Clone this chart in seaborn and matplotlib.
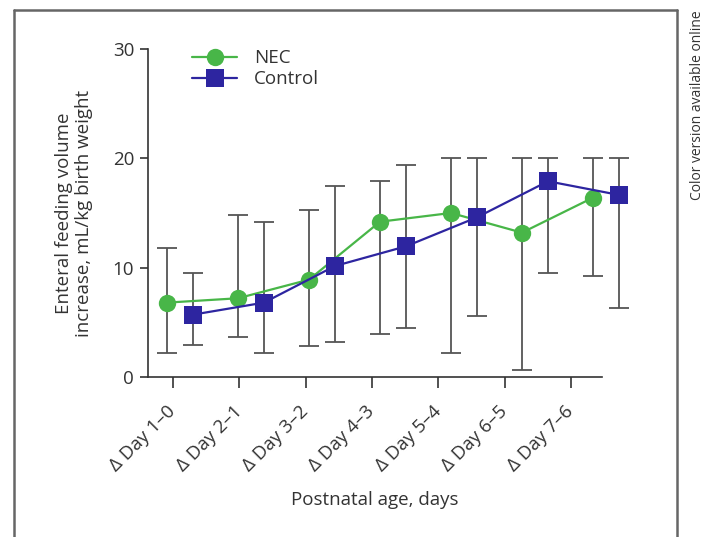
import numpy as np
import pandas as pd
import matplotlib
matplotlib.use("Agg")
import matplotlib.pyplot as plt
import seaborn as sns
from matplotlib.lines import Line2D

categories = ["Δ Day 1–0", "Δ Day 2–1", "Δ Day 3–2", "Δ Day 4–3",
              "Δ Day 5–4", "Δ Day 6–5", "Δ Day 7–6"]
nec_mean = [6.8, 7.2, 8.9, 14.2, 15.0, 13.2, 16.4]
nec_upper = [11.8, 14.8, 15.25, 17.9, 20.0, 20.0, 20.0]
nec_lower = [2.2, 3.7, 2.8, 3.9, 2.2, 0.6, 9.2]
ctrl_mean = [5.7, 6.8, 10.15, 11.95, 14.6, 17.9, 16.65]
ctrl_upper = [9.5, 14.15, 17.5, 19.4, 20.0, 20.0, 20.0]
ctrl_lower = [2.9, 2.2, 3.2, 4.5, 5.6, 9.5, 6.3]
y_ticks = [0, 10, 20, 30]

sns.set_theme(style="white")
plt.rcParams['font.family'] = ['Open Sans', 'DejaVu Sans']

GREEN = "#48b648"
BLUE = "#2d25a0"
TXT = "#333333"

n = len(categories)
idx = np.arange(n)
ctrl_off = 0.366
df = pd.DataFrame({
    "x": np.concatenate([idx, idx + ctrl_off]),
    "y": nec_mean + ctrl_mean,
    "group": ["NEC"] * n + ["Control"] * n,
})

fig = plt.figure(figsize=(7.05, 5.37), dpi=100)
ax = fig.add_axes([0.2099, 0.2980, 0.644, 0.6108])

# error bars
for xs, m, lo, hi in [(idx, nec_mean, nec_lower, nec_upper),
                      (idx + ctrl_off, ctrl_mean, ctrl_lower, ctrl_upper)]:
    m = np.array(m); lo = np.array(lo); hi = np.array(hi)
    eb = ax.errorbar(xs, m, yerr=[m - lo, hi - m], fmt="none",
                     ecolor="#555555", elinewidth=1.3, capsize=7, capthick=1.3,
                     zorder=1)
    for art in list(eb.lines[1]) + list(eb.lines[2]):
        art.set_clip_on(False)

sns.lineplot(data=df, x="x", y="y", hue="group", style="group",
             markers={"NEC": "o", "Control": "s"}, dashes=False,
             palette={"NEC": GREEN, "Control": BLUE},
             markersize=12.5, linewidth=1.6, markeredgewidth=0,
             legend=False, ax=ax, zorder=3)
for ln in ax.lines:
    ln.set_clip_on(False)

ax.set_xlim(-0.2676, 6.127)
ax.set_ylim(0, 30)
tick_pos = 0.085 + 0.934 * idx
ax.set_xticks(tick_pos)
ax.set_xticklabels(categories, rotation=45, ha="right", va="center",
                   rotation_mode="anchor", fontsize=13.5, color=TXT)
ax.set_yticks(y_ticks)
ax.set_yticklabels([str(v) for v in y_ticks], fontsize=13.5, color=TXT)
ax.tick_params(axis="x", direction="out", length=8, width=1.2, color="#333333",
               pad=15, bottom=True)
ax.tick_params(axis="y", direction="out", length=6, width=1.2, color="#333333",
               pad=4, left=True)

for s in ["top", "right"]:
    ax.spines[s].set_visible(False)
for s in ["left", "bottom"]:
    ax.spines[s].set_color("#333333")
    ax.spines[s].set_linewidth(1.2)

ax.set_xlabel("Postnatal age, days", fontsize=13.5, color=TXT, labelpad=11)
ax.set_ylabel("Enteral feeding volume\nincrease, mL/kg birth weight",
              fontsize=13.5, color=TXT, labelpad=14, linespacing=1.15)

handles = [Line2D([], [], color=GREEN, marker="o", markersize=12.5, lw=1.6,
                  markeredgewidth=0),
           Line2D([], [], color=BLUE, marker="s", markersize=12.5, lw=1.6,
                  markeredgewidth=0)]
ax.legend(handles, ["NEC", "Control"], loc="upper left",
          bbox_to_anchor=(0.06, 1.05), frameon=False, fontsize=13.5,
          handlelength=2.4, handletextpad=0.9, labelspacing=0.15,
          labelcolor=TXT)

# outer frame
fc = "#666666"
fig.add_artist(Line2D([0.0199, 0.0199], [0.0, 0.9814], color=fc, lw=1.8,
                      transform=fig.transFigure))
fig.add_artist(Line2D([0.0199, 0.9603], [0.9814, 0.9814], color=fc, lw=1.8,
                      transform=fig.transFigure))
fig.add_artist(Line2D([0.9603, 0.9603], [0.0, 0.9814], color=fc, lw=1.8,
                      transform=fig.transFigure))
fig.text(0.989, 0.9814, "Color version available online", rotation=90,
         ha="center", va="top", fontsize=10, color=TXT)

fig.savefig("out.png", dpi=100)
